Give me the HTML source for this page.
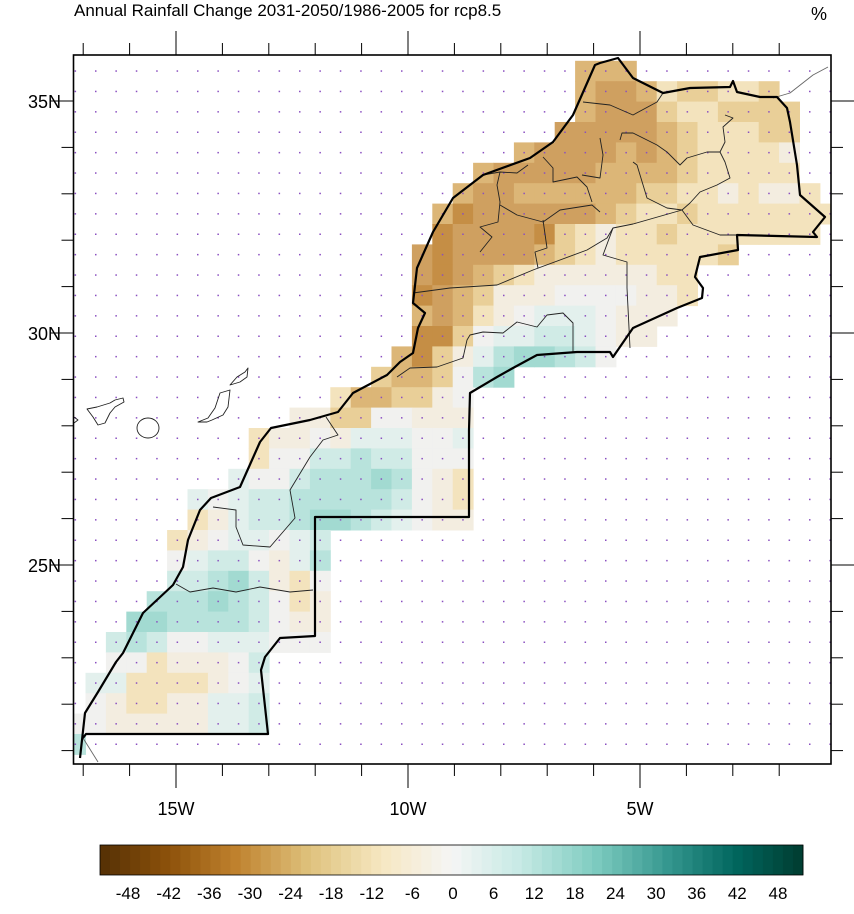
<!DOCTYPE html>
<html><head><meta charset="utf-8"><style>
body{margin:0;background:#fff;}
svg text{font-family:"Liberation Sans",Arial,sans-serif;}
</style></head><body>
<svg id="s" width="854" height="909" xmlns="http://www.w3.org/2000/svg">
<defs><clipPath id="pc"><rect x="73.5" y="55" width="757.5" height="709"/></clipPath></defs>
<g id="cells" clip-path="url(#pc)"></g>
<g id="dots"></g>
<g fill="none" stroke="#222" stroke-width="0.9" stroke-linejoin="round">
<path d="M87,409 L97,407 L110,403 L115,400 L123,398 L124,402 L115,407 L110,413 L105,423 L98,425 L93,417 Z"/>
<ellipse cx="148" cy="428" rx="11" ry="10"/>
<path d="M198,422 L208,418 L215,408 L220,393 L230,390 L228,407 L223,415 L212,420 L207,422 Z"/>
<path d="M230,385 L237,377 L245,372 L248,368 L247,377 L240,382 Z"/>
<path d="M74,417 L78,420 L74,423"/>
<path d="M773,98 L790,93 L813,75 L828,67" stroke="#666"/>
<path d="M83,738 L98,762" stroke="#666"/>
<path d="M326,417 L338,435 L323,440 L310,457 L290,490 L295,518 L270,547 L243,545 L236,527 L236,510 L213,507"/>
<path d="M176,584 L190,592 L213,588 L236,592 L260,587 L290,592 L313,590"/>
<path d="M397,377 L410,368 L437,367 L463,358 L467,340 L470,335 L483,332 L503,333 L517,322 L537,327 L547,315 L563,313 L573,323 L573,352"/>
<path d="M413,293 L450,288 L497,285 L533,270 L587,250 L607,238 L613,228 L633,224 L682,210 L693,225 L720,235 L737,235"/>
<path d="M630,348 L627,288 L627,262 L603,255 L613,228"/>
<path d="M682,210 L690,203 L700,192 L717,185 L730,178 L725,162 L720,152 L725,142 L723,127 L733,118 L725,115"/>
<path d="M682,210 L667,208 L647,198 L637,165 L633,162"/>
<path d="M720,152 L707,152 L687,158 L680,165 L667,152 L657,145 L633,133 L622,133 L620,140"/>
<path d="M583,102 L610,105 L633,115 L657,102 L663,93"/>
<path d="M500,172 L497,185 L500,202 L498,222 L480,227 L492,237 L480,252"/>
<path d="M500,205 L517,215 L543,222 L560,210 L592,205 L600,212"/>
<path d="M543,157 L553,168 L553,182 L577,177 L587,187 L592,202"/>
<path d="M600,138 L603,155 L600,178 L582,175"/>
<path d="M543,220 L547,248 L535,252 L538,268"/>
<path d="M483,175 L500,172 L517,173 L528,165"/>
</g>
<path fill="none" stroke="#000" stroke-width="2.2" stroke-linejoin="round" d="M80,758 L85,713 L98,692 L116,662 L123,653 L143,613 L173,585 L183,567 L188,540 L200,510 L211,498 L240,487 L260,442 L271,428 L310,420 L338,412 L353,393 L387,375 L400,362 L413,353 L418,328 L425,313 L413,303 L417,268 L433,232 L453,198 L483,175 L530,158 L553,142 L573,115 L595,65 L600,63 L618,58 L633,78 L653,88 L663,93 L690,88 L730,87 L733,81 L737,92 L760,97 L777,97 L787,108 L790,122 L797,165 L800,195 L825,217 L813,232 L817,237 L737,235 L738,250 L700,257 L695,277 L703,288 L702,298 L677,308 L633,328 L613,357 L610,352 L577,352 L537,355 L513,368 L497,377 L470,393 L469,430 L469,517 L315,517 L315,636 L280,638 L265,657 L261,670 L268,734 L86,734 L83,738"/>
<rect x="73.5" y="55" width="757.5" height="709" fill="none" stroke="#000" stroke-width="1.6"/>
<g id="ticks" stroke="#000" stroke-width="1"></g>
<text x="74" y="16" font-size="17">Annual Rainfall Change 2031-2050/1986-2005 for rcp8.5</text>
<text x="811" y="20" font-size="18">%</text>
<g font-size="18">
<text x="28" y="108">35N</text><text x="28" y="340">30N</text><text x="28" y="572">25N</text>
<text x="176" y="815" text-anchor="middle">15W</text><text x="408" y="815" text-anchor="middle">10W</text><text x="640" y="815" text-anchor="middle">5W</text>
</g>
<g id="cbar"></g>
<rect x="100" y="845" width="703" height="30" fill="none" stroke="#000" stroke-width="0.8"/>
<g id="cbl" font-size="17" text-anchor="middle"></g>
</svg>
<script>
const NS="http://www.w3.org/2000/svg";
function el(p,t,a){const e=document.createElementNS(NS,t);for(const k in a)e.setAttribute(k,a[k]);p.appendChild(e);return e;}
const C={A:"#c58e45",B:"#cfa060",C:"#dcb677",D:"#e9cf98",E:"#f3e3bd",F:"#f3ede0",G:"#f1f1ef",H:"#e3f0ed",I:"#d0ebe6",J:"#b8e3dc",K:"#a2dad1",L:"#8ed0c5"};
const rows={
0:[25,"CCC"],1:[25,"CBBCEDDEED"],2:[25,"CBBBDEEDDDD"],3:[24,"BBBBBCDEEEDD"],
4:[22,"CBBBBCBCDEEEEF"],5:[20,"CBBBBBCCCCDEEEEE"],6:[19,"CBBCCCCCCDDEEFEFFE"],
7:[18,"CABBBBBBCDEEDEEEEEEE"],8:[18,"ABBBBADEFEEDEEEEEEE"],9:[17,"BABBBBCDEFEEEEED"],
10:[17,"BABCDEFFFFFFEE"],11:[17,"ABCDFFFGGGGFFE"],12:[17,"CBCEFGHHHGFFF"],13:[17,"AADGHHIIHGFF"],
14:[16,"CADFHJKKJIG"],15:[15,"DCCDGJK"],16:[13,"ECCDDFG"],17:[11,"FFDDGGFFF"],
18:[9,"EFFGFHHHGGH"],19:[9,"EGGIIJIIGGG"],20:[8,"HGGIJJJKJGFE"],21:[6,"HGHIIJJJJJIGFE"],
22:[6,"EFHIIJKKJIHGFF"],23:[5,"EFGHHGHI"],24:[5,"GHIIGFHJ"],25:[5,"IIJKIFEG"],
26:[4,"JJJKJIGEF"],27:[3,"KKJJJJIGFF"],28:[2,"IJIGGHHHGGG"],29:[2,"GGEFFFGI"],
30:[1,"HHEEEEFGH"],31:[1,"GFEEFFHHI"],32:[0,"GGFFFFFHHI"],33:[0,"J"]};
const cg=document.getElementById("cells");
for(const j in rows){const [k0,s]=rows[j];for(let i=0;i<s.length;i++){
 el(cg,"rect",{x:(65.1+20.4*(k0+i)).toFixed(1),y:(60.8+20.4*j).toFixed(1),width:20.9,height:20.9,fill:C[s[i]]});}}
const dg=document.getElementById("dots");
for(let j=0;j<34;j++)for(let k=0;k<38;k++)el(dg,"rect",{x:(74.6+20.4*k).toFixed(1),y:(70.3+20.4*j).toFixed(1),width:1.5,height:1.5,fill:"#8a4fc0"});
const tg=document.getElementById("ticks");
for(let d=-3;d<=13;d++){const x=176+46.4*d; if(x<74||x>830)continue; const maj=(d%5==0);const L=maj?24:12;
 el(tg,"line",{x1:x,y1:55,x2:x,y2:55-L});el(tg,"line",{x1:x,y1:764,x2:x,y2:764+L});}
for(let d=-2;d<=14;d++){const y=101+46.4*d; if(y<56||y>763)continue; const maj=(d%5==0);const L=maj?24:12;
 el(tg,"line",{x1:73.5,y1:y,x2:73.5-L,y2:y});el(tg,"line",{x1:831,y1:y,x2:831+L,y2:y});}
const stops=[[-52,[84,48,5]],[-42,[140,81,10]],[-32,[191,129,45]],[-21,[223,194,125]],[-10,[246,232,195]],[0,[245,245,245]],[10,[199,234,229]],[21,[128,205,193]],[32,[53,151,143]],[42,[1,102,94]],[52,[0,60,48]]];
function col(v){for(let i=0;i<stops.length-1;i++){const[a,ca]=stops[i],[b,cb]=stops[i+1];if(v>=a&&v<=b){const t=(v-a)/(b-a);return "rgb("+ca.map((c,n)=>Math.round(c+(cb[n]-c)*t)).join(",")+")";}}return "#000";}
const cb=document.getElementById("cbar");const N=70,w=703/N;
for(let i=0;i<N;i++){const v=-52+104*(i+0.5)/N;el(cb,"rect",{x:(100+i*w).toFixed(2),y:845,width:(w+0.4).toFixed(2),height:30,fill:col(v)});}
const lg=document.getElementById("cbl");
for(let v=-48;v<=48;v+=6){const t=el(lg,"text",{x:(453+v*6.77).toFixed(1),y:899});t.textContent=String(v);}
</script>
</body></html>
